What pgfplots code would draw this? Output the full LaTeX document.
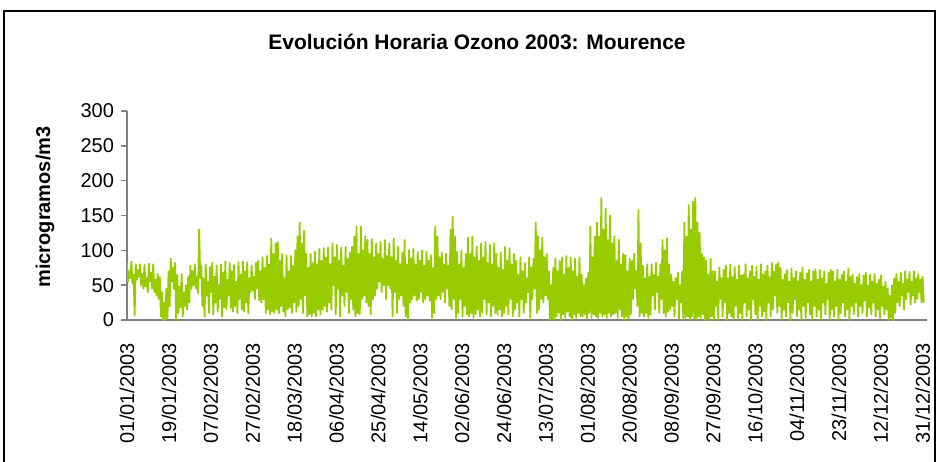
\documentclass[border=0pt]{standalone}
\usepackage{pgfplots}
\pgfplotsset{compat=1.18}
\usepackage{pgfplotstable}
\usepackage{fontspec}
\setmainfont{Liberation Sans}
\definecolor{ozono}{RGB}{153,204,0}
\definecolor{axgray}{RGB}{128,128,128}

% hourly ozone (ug/m3), read off as a daily high/low pair, day by day
\pgfplotstableread[row sep=\\]{
v\\
82\\55\\70\\60\\84\\52\\65\\7\\80\\58\\
72\\62\\80\\50\\66\\45\\79\\48\\60\\40\\81\\55\\68\\45\\80\\40\\58\\35\\66\\30\\
62\\5\\40\\0\\25\\0\\45\\2\\70\\20\\
88\\55\\75\\45\\82\\0\\
65\\10\\48\\18\\66\\5\\40\\20\\
50\\15\\62\\25\\78\\45\\
70\\50\\80\\45\\62\\38\\130\\60\\
78\\20\\60\\5\\80\\35\\55\\10\\76\\40\\82\\8\\62\\25\\78\\12\\50\\30\\80\\5\\68\\18\\84\\15\\58\\35\\82\\17\\
70\\12\\79\\20\\55\\10\\83\\30\\
65\\15\\84\\12\\70\\25\\83\\10\\60\\40\\
78\\42\\62\\30\\82\\45\\85\\28\\
70\\25\\90\\30\\
75\\10\\92\\15\\80\\8\\117\\12\\95\\10\\110\\15\\
112\\10\\85\\20\\95\\12\\60\\5\\
93\\15\\70\\18\\92\\10\\78\\25\\100\\12\\
120\\20\\140\\30\\110\\10\\128\\35\\95\\5\\
75\\8\\95\\5\\82\\10\\
98\\5\\80\\15\\102\\8\\
85\\15\\103\\20\\90\\12\\104\\25\\80\\15\\
110\\50\\90\\8\\108\\45\\
85\\5\\104\\35\\78\\20\\105\\40\\88\\10\\97\\30\\105\\15\\
120\\5\\134\\10\\95\\8\\
134\\30\\100\\35\\120\\25\\
115\\20\\95\\8\\116\\30\\90\\35\\110\\45\\
95\\55\\112\\40\\88\\50\\115\\30\\92\\50\\110\\45\\
90\\5\\117\\40\\85\\10\\105\\30\\80\\35\\
97\\20\\115\\5\\80\\0\\100\\25\\
88\\30\\102\\35\\80\\28\\98\\30\\85\\40\\100\\25\\78\\30\\98\\35\\85\\28\\
93\\3\\75\\10\\134\\30\\
120\\35\\90\\30\\97\\40\\
80\\25\\95\\45\\78\\20\\
130\\15\\148\\30\\120\\3\\
98\\10\\80\\30\\100\\5\\75\\20\\95\\8\\
118\\5\\95\\10\\120\\3\\90\\8\\105\\15\\85\\5\\
110\\10\\90\\30\\112\\8\\82\\25\\108\\5\\80\\20\\110\\10\\
95\\8\\75\\15\\97\\5\\72\\10\\
105\\20\\85\\8\\103\\30\\80\\5\\95\\15\\
85\\25\\65\\5\\90\\30\\70\\10\\82\\25\\60\\40\\90\\3\\
75\\30\\88\\45\\140\\10\\
120\\15\\100\\30\\118\\25\\90\\35\\95\\30\\
70\\0\\50\\2\\75\\0\\
88\\5\\70\\10\\85\\0\\90\\8\\65\\3\\92\\12\\
75\\5\\90\\0\\70\\8\\88\\3\\62\\10\\90\\5\\
65\\5\\50\\8\\60\\2\\68\\10\\
134\\3\\90\\8\\120\\5\\
140\\3\\120\\10\\175\\5\\130\\8\\
160\\3\\115\\10\\150\\5\\110\\8\\
120\\10\\85\\3\\115\\15\\80\\5\\95\\0\\
93\\5\\70\\2\\88\\8\\
85\\30\\95\\45\\70\\20\\
158\\5\\110\\10\\
78\\5\\60\\10\\80\\3\\62\\8\\
80\\35\\65\\15\\82\\40\\62\\10\\80\\30\\
115\\10\\100\\5\\117\\12\\80\\15\\
65\\20\\55\\5\\60\\30\\68\\2\\50\\25\\70\\0\\
140\\3\\120\\5\\
165\\0\\130\\5\\170\\2\\175\\0\\140\\5\\
125\\3\\95\\8\\90\\0\\
85\\2\\65\\0\\88\\5\\70\\0\\
70\\20\\55\\0\\75\\30\\60\\5\\72\\25\\78\\0\\60\\10\\
80\\5\\62\\0\\76\\20\\58\\3\\78\\10\\64\\0\\65\\25\\80\\5\\60\\15\\70\\0\\78\\30\\62\\8\\
76\\0\\58\\20\\80\\5\\66\\12\\70\\0\\78\\25\\62\\5\\82\\15\\70\\35\\80\\10\\82\\20\\
75\\0\\58\\15\\66\\5\\72\\25\\55\\0\\74\\10\\60\\30\\70\\5\\56\\15\\68\\0\\75\\20\\58\\3\\
67\\25\\72\\8\\55\\0\\70\\20\\73\\5\\58\\15\\72\\0\\60\\25\\70\\8\\52\\30\\68\\0\\72\\15\\
70\\5\\55\\20\\72\\0\\58\\10\\65\\25\\70\\5\\55\\15\\74\\0\\62\\20\\
65\\8\\52\\25\\62\\5\\66\\20\\50\\10\\64\\28\\68\\5\\50\\18\\
65\\8\\55\\25\\66\\5\\52\\15\\58\\3\\64\\20\\48\\8\\55\\15\\
45\\0\\35\\3\\50\\0\\60\\10\\
66\\25\\55\\20\\68\\35\\52\\15\\70\\30\\58\\40\\69\\22\\55\\35\\70\\25\\60\\30\\66\\40\\58\\25\\62\\25\\
}\ozono

\begin{document}
\begin{tikzpicture}
\useasboundingbox (0,0) rectangle (469pt,230.5pt);
\draw[line width=0.6pt] (2pt,-3pt) rectangle (467.5pt,225pt);
\node[font=\bfseries\fontsize{10.5}{12}\selectfont] at (238.5pt,209.5pt) {Evolución Horaria Ozono 2003: Mourence};
\node[font=\bfseries\fontsize{10}{12}\selectfont, rotate=90] at (22.5pt,127pt) {microgramos/m3};
\begin{axis}[
    at={(63.5pt,70.5pt)}, anchor=south west,
    width=400pt, height=104.5pt, scale only axis,
    xmin=0, xmax=366, ymin=0, ymax=300,
    axis x line*=bottom, axis y line*=left,
    axis line style={draw=axgray, line width=1pt, -},
    ytick={0,50,...,300},
    xtick={0,19.16,38.32,57.47,76.63,95.79,114.95,134.11,153.26,172.42,191.58,210.74,229.89,249.05,268.21,287.37,306.53,325.68,344.84,364},
    xticklabels={01/01/2003,19/01/2003,07/02/2003,27/02/2003,18/03/2003,06/04/2003,25/04/2003,14/05/2003,02/06/2003,24/06/2003,13/07/2003,01/08/2003,20/08/2003,08/09/2003,27/09/2003,16/10/2003,04/11/2003,23/11/2003,12/12/2003,31/12/2003},
    x tick label style={yshift=-5pt, rotate=90, anchor=east},
    xtick style={draw=none},
    ytick style={draw=axgray, line width=0.8pt},
    tick align=outside, major tick length=3pt,
    /pgf/number format/assume math mode=true,
    tick label style={font=\fontsize{10}{12}\selectfont},
]
\addplot[ozono, line width=0.9pt, line join=round] table[x expr=\coordindex/2, y=v] {\ozono};
\end{axis}
\end{tikzpicture}
\end{document}
